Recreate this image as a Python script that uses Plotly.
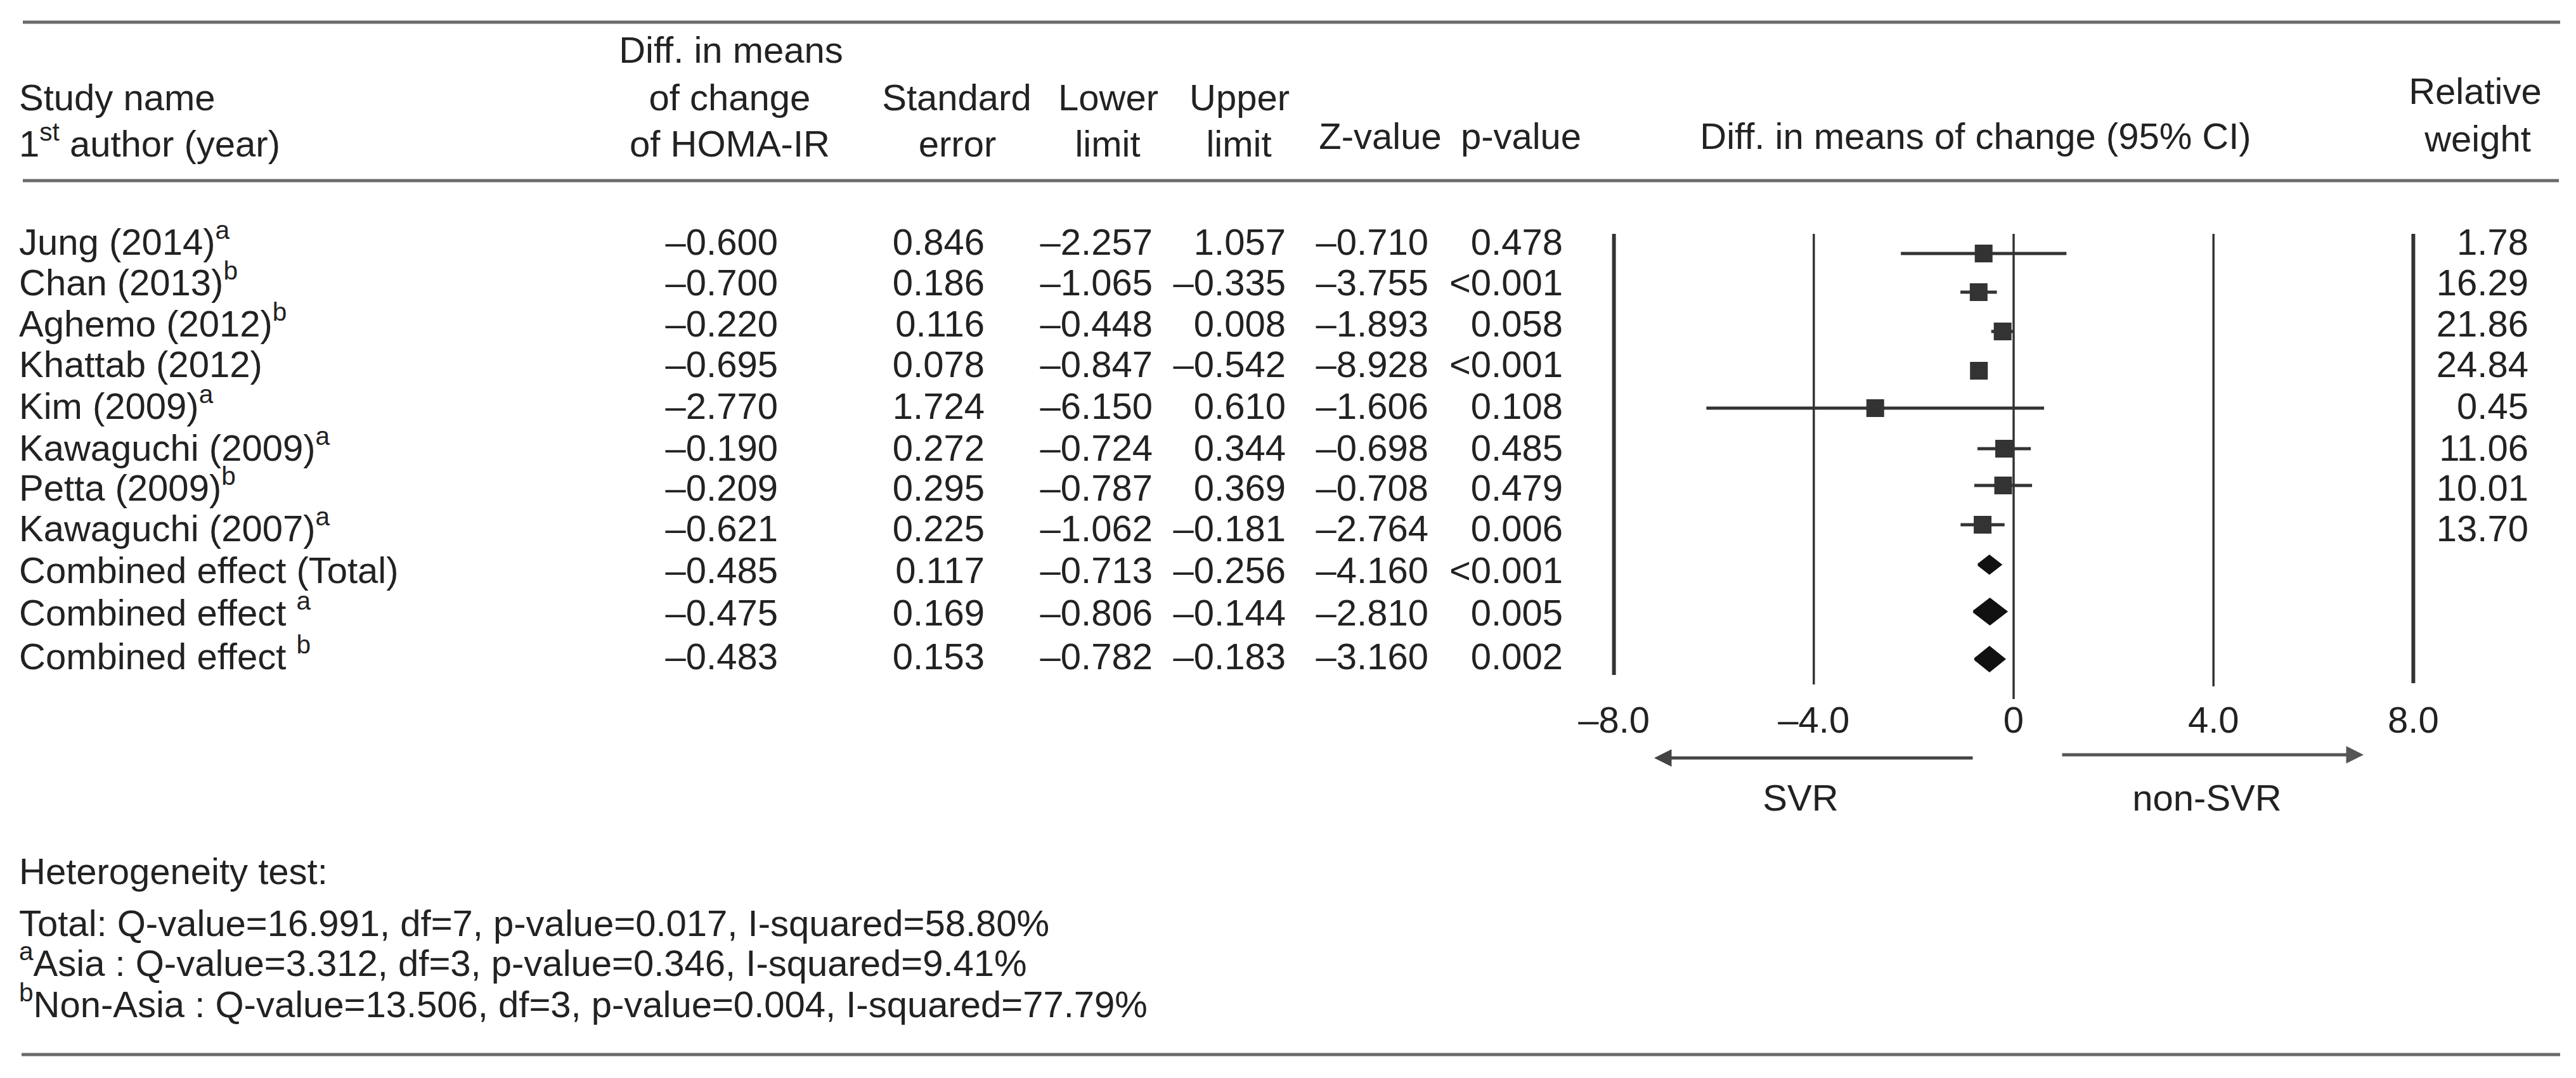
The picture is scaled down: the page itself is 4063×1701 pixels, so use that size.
import plotly.graph_objects as go

# ---------------- data ----------------
study_names = ["Jung (2014)<sup>a</sup>", "Chan (2013)<sup>b</sup>", "Aghemo (2012)<sup>b</sup>",
               "Khattab (2012)", "Kim (2009)<sup>a</sup>", "Kawaguchi (2009)<sup>a</sup>",
               "Petta (2009)<sup>b</sup>", "Kawaguchi (2007)<sup>a</sup>",
               "Combined effect (Total)", "Combined effect <sup>a</sup>", "Combined effect <sup>b</sup>"]
diff_means = [-0.600, -0.700, -0.220, -0.695, -2.770, -0.190, -0.209, -0.621, -0.485, -0.475, -0.483]
std_error = [0.846, 0.186, 0.116, 0.078, 1.724, 0.272, 0.295, 0.225, 0.117, 0.169, 0.153]
lower_limit = [-2.257, -1.065, -0.448, -0.847, -6.150, -0.724, -0.787, -1.062, -0.713, -0.806, -0.782]
upper_limit = [1.057, -0.335, 0.008, -0.542, 0.610, 0.344, 0.369, -0.181, -0.256, -0.144, -0.183]
z_values = [-0.710, -3.755, -1.893, -8.928, -1.606, -0.698, -0.708, -2.764, -4.160, -2.810, -3.160]
p_values = ["0.478", "<0.001", "0.058", "<0.001", "0.108", "0.485", "0.479", "0.006", "<0.001", "0.005", "0.002"]
rel_weight = ["1.78", "16.29", "21.86", "24.84", "0.45", "11.06", "10.01", "13.70"]
n_studies = 8

tick_vals = [-8, -4, 0, 4, 8]
tick_text = ["\u20138.0", "\u20134.0", "0", "4.0", "8.0"]

footnotes = ["Heterogeneity test:",
             "Total: Q-value=16.991, df=7, p-value=0.017, I-squared=58.80%",
             "<sup>a</sup>Asia : Q-value=3.312, df=3, p-value=0.346, I-squared=9.41%",
             "<sup>b</sup>Non-Asia : Q-value=13.506, df=3, p-value=0.004, I-squared=77.79%"]

# ---------------- layout constants (pixel space) ----------------
W, H = 4063, 1701
FS = 58
FONT = "Liberation Sans, Arial, Helvetica, sans-serif"
TXT = "#222222"
INK = "#333333"

TEXT_ROW_Y = [379, 443, 508, 572, 638, 704, 767, 831, 897, 964, 1033]
MARK_ROW_Y = [392, 453, 515, 577, 636, 700, 758, 820, 883, 957, 1032]
DIAMOND_H = [14, 20, 19]

NAME_X = 22
COL_RIGHT = dict(diff=1219, se=1545, lo=1810, hi=2020, z=2245, p=2457, w=3980)

# forest axis: value 0 at px 3168, 78.8 px per unit
ZERO_PX, PX_PER_UNIT = 3168, 78.8
FR = [-9, 9]
f_dom = [(ZERO_PX + FR[0] * PX_PER_UNIT) / W, (ZERO_PX + FR[1] * PX_PER_UNIT) / W]
VLINE_TOP = 361
VLINE_BOTTOM = [1057, 1072, 1095, 1075, 1070]
VLINE_W = [6, 3.5, 3.5, 3.5, 6]
TICKLABEL_Y = 1133

RULES = [(28, 4030, 27), (28, 4028, 277), (26, 4030, 1656)]


def fmt(v):
    return f"{v:.3f}".replace("-", "\u2013")


fig = go.Figure()


def text_trace(xs, ys, texts, pos, axis="x"):
    fig.add_trace(go.Scatter(x=xs, y=ys, text=texts, mode="text", textposition=pos,
                             textfont=dict(family=FONT, size=FS, color=TXT),
                             xaxis=axis, yaxis="y", hoverinfo="skip", cliponaxis=False,
                             showlegend=False))


# ---- header ----
hdr_left = [("Study name", 151), ("1<sup>st</sup> author (year)", 224)]
text_trace([NAME_X] * 2, [h[1] for h in hdr_left], [h[0] for h in hdr_left], "middle right")
hdr_center = [
    ("Diff. in means", 1145, 76), ("of change", 1143, 151), ("of HOMA-IR", 1143, 224),
    ("Standard", 1501, 151), ("error", 1502, 224),
    ("Lower", 1740, 151), ("limit", 1739, 224),
    ("Upper", 1947, 151), ("limit", 1946, 224),
    ("Z-value", 2169, 212), ("p-value", 2391, 212),
    ("Diff. in means of change (95% CI)", 3108, 212),
    ("Relative", 3896, 141), ("weight", 3900, 216),
]
text_trace([h[1] for h in hdr_center], [h[2] for h in hdr_center], [h[0] for h in hdr_center],
           "middle center")

# ---- table body ----
text_trace([NAME_X] * len(study_names), TEXT_ROW_Y, study_names, "middle right")
cols = [("diff", [fmt(v) for v in diff_means]), ("se", [f"{v:.3f}" for v in std_error]),
        ("lo", [fmt(v) for v in lower_limit]), ("hi", [fmt(v) for v in upper_limit]),
        ("z", [fmt(v) for v in z_values]), ("p", p_values)]
for key, vals in cols:
    text_trace([COL_RIGHT[key]] * len(vals), TEXT_ROW_Y[:len(vals)], vals, "middle left")
text_trace([COL_RIGHT["w"]] * len(rel_weight), TEXT_ROW_Y[:len(rel_weight)], rel_weight, "middle left")

# ---- forest: reference lines ----
for v, yb, lw in zip(tick_vals, VLINE_BOTTOM, VLINE_W):
    fig.add_trace(go.Scatter(x=[v, v], y=[VLINE_TOP, yb], mode="lines", xaxis="x2", yaxis="y",
                             line=dict(color=INK, width=lw), hoverinfo="skip", showlegend=False))

# ---- forest: studies (squares with CI) ----
est = diff_means[:n_studies]
fig.add_trace(go.Scatter(
    x=est, y=MARK_ROW_Y[:n_studies], mode="markers", xaxis="x2", yaxis="y",
    marker=dict(symbol="square", size=28, color=INK, line=dict(width=0)),
    error_x=dict(type="data", symmetric=False,
                 array=[u - e for u, e in zip(upper_limit[:n_studies], est)],
                 arrayminus=[e - l for e, l in zip(est, lower_limit[:n_studies])],
                 thickness=5, width=0, color=INK),
    hoverinfo="skip", showlegend=False))

# ---- forest: combined effects (diamonds) ----
for k, i in enumerate(range(n_studies, len(diff_means))):
    y0, h = MARK_ROW_Y[i], DIAMOND_H[k]
    lo, e, hi = lower_limit[i], diff_means[i], upper_limit[i]
    fig.add_trace(go.Scatter(x=[lo, e, hi, e, lo], y=[y0, y0 - h, y0, y0 + h, y0],
                             mode="lines", fill="toself", fillcolor="#111111",
                             line=dict(color="#111111", width=3), xaxis="x2", yaxis="y",
                             hoverinfo="skip", showlegend=False))

# ---- forest: tick labels ----
text_trace(tick_vals, [TICKLABEL_Y] * len(tick_vals), tick_text, "middle center", axis="x2")

# ---- direction labels ----
text_trace([2832, 3473], [1256, 1256], ["SVR", "non-SVR"], "middle center")

# ---- footnotes ----
text_trace([NAME_X] * len(footnotes), [1372, 1454, 1517, 1582], footnotes, "middle right")

# ---- rules ----
shapes = []
for x0, x1, yy in RULES:
    shapes.append(dict(type="line", xref="x", yref="y", x0=x0, x1=x1, y0=yy, y1=yy,
                       line=dict(color="#6a6a6a", width=5)))

# ---- arrows ----
annotations = [
    dict(x=2601, y=1188, ax=3105, ay=1188, xref="x", yref="y", axref="x", ayref="y",
         text="", showarrow=True, arrowhead=2, arrowsize=1.1, arrowwidth=5,
         arrowcolor="#444444", standoff=0, startstandoff=0),
    dict(x=3720, y=1183, ax=3243, ay=1183, xref="x", yref="y", axref="x", ayref="y",
         text="", showarrow=True, arrowhead=2, arrowsize=1.1, arrowwidth=5,
         arrowcolor="#555555", standoff=0, startstandoff=0),
]

fig.update_layout(
    width=W, height=H, margin=dict(l=0, r=0, t=0, b=0, pad=0),
    paper_bgcolor="white", plot_bgcolor="rgba(0,0,0,0)",
    xaxis=dict(range=[0, W], domain=[0, 1], visible=False, fixedrange=True),
    xaxis2=dict(range=FR, domain=f_dom, anchor="y", visible=False, fixedrange=True),
    yaxis=dict(range=[H, 0], domain=[0, 1], visible=False, fixedrange=True),
    shapes=shapes, annotations=annotations, showlegend=False,
    font=dict(family=FONT, size=FS, color=TXT),
)

fig.write_html("out.html")
